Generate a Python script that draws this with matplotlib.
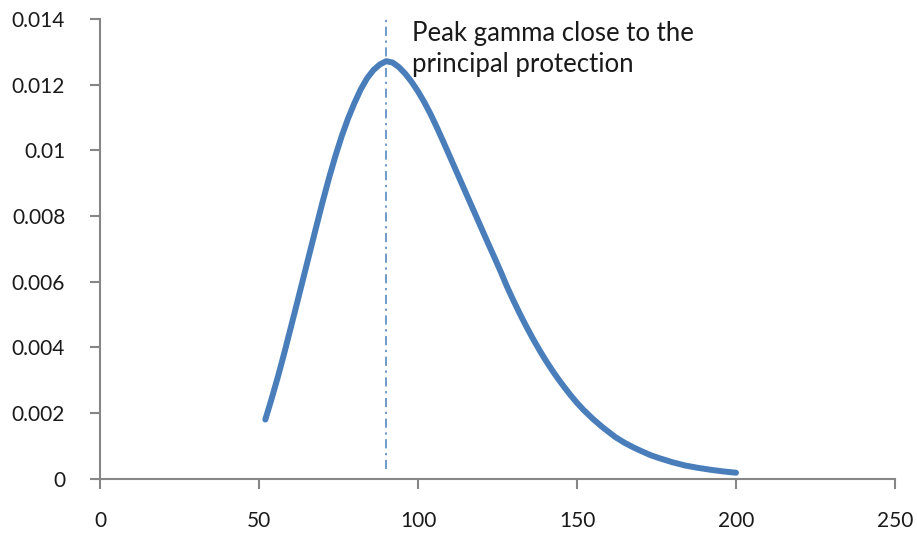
import matplotlib.pyplot as plt

plt.rcParams["font.family"] = ["Lato", "DejaVu Sans"]

# gamma profile against underlying level
spot = [52, 54, 56, 58, 60, 62, 64, 66, 68, 70, 72, 74, 76, 78, 80, 82, 84,
        86, 88, 90, 92, 94, 96, 98, 100, 102, 104, 106, 108, 110, 112, 114,
        116, 118, 120, 122, 124, 126, 128, 130, 132, 134, 136, 138, 140, 142,
        144, 146, 148, 150, 152, 155, 158, 160, 162, 165, 168, 170, 173, 176,
        180, 184, 188, 192, 196, 200]
gamma = [0.00180, 0.00244, 0.00312, 0.00384, 0.00460, 0.00536, 0.00613,
         0.00690, 0.00767, 0.00843, 0.00915, 0.00982, 0.01043, 0.01097,
         0.01144, 0.01186, 0.01220, 0.01245, 0.01262, 0.01272, 0.01268,
         0.01254, 0.01234, 0.01209, 0.01180, 0.01147, 0.01110, 0.01069,
         0.01026, 0.00982, 0.00938, 0.00894, 0.00850, 0.00806, 0.00762,
         0.00718, 0.00675, 0.00631, 0.00585, 0.00543, 0.00503, 0.00465,
         0.00429, 0.00395, 0.00363, 0.00333, 0.00305, 0.00279, 0.00254,
         0.00231, 0.00210, 0.00182, 0.00157, 0.00142, 0.00127, 0.00109,
         0.00094, 0.00085, 0.00072, 0.00062, 0.00050, 0.00040, 0.00033,
         0.00027, 0.00022, 0.00018]

peak_x = 90
peak_line_y = [0.0003, 0.014]
note = "Peak gamma close to the\nprincipal protection"

xticks = [0, 50, 100, 150, 200, 250]
yticks = [0, 0.002, 0.004, 0.006, 0.008, 0.01, 0.012, 0.014]
ytick_labels = ["0", "0.002", "0.004", "0.006", "0.008", "0.01", "0.012", "0.014"]

blue = "#4A7EBB"
axis_grey = "#868686"

fig = plt.figure(figsize=(9.17, 5.33), dpi=100)
ax = fig.add_axes([0.109, 0.102, 0.867, 0.862])

ax.plot(spot, gamma, color=blue, lw=4.3, solid_capstyle="round",
        solid_joinstyle="round", zorder=3)
ax.plot([peak_x, peak_x], peak_line_y, color=blue, lw=1.1,
        linestyle=(0, (6, 3, 1.5, 3)), zorder=2)

ax.text(98, 0.01395, note, fontsize=18.5, color="#1a1a1a", va="top",
        ha="left", linespacing=1.3)

ax.set_xlim(0, 250)
ax.set_ylim(0, 0.014)
ax.set_xticks(xticks)
ax.set_xticklabels([str(v) for v in xticks])
ax.set_yticks(yticks)
ax.set_yticklabels(ytick_labels)

for side in ("top", "right"):
    ax.spines[side].set_visible(False)
for side in ("left", "bottom"):
    ax.spines[side].set_color(axis_grey)
    ax.spines[side].set_linewidth(1.5)

ax.tick_params(axis="both", direction="out", length=7, width=1.5,
               color=axis_grey, labelsize=15, labelcolor="#1a1a1a")
ax.tick_params(axis="x", pad=16)
ax.tick_params(axis="y", pad=18)

fig.savefig("out.png", dpi=100)
